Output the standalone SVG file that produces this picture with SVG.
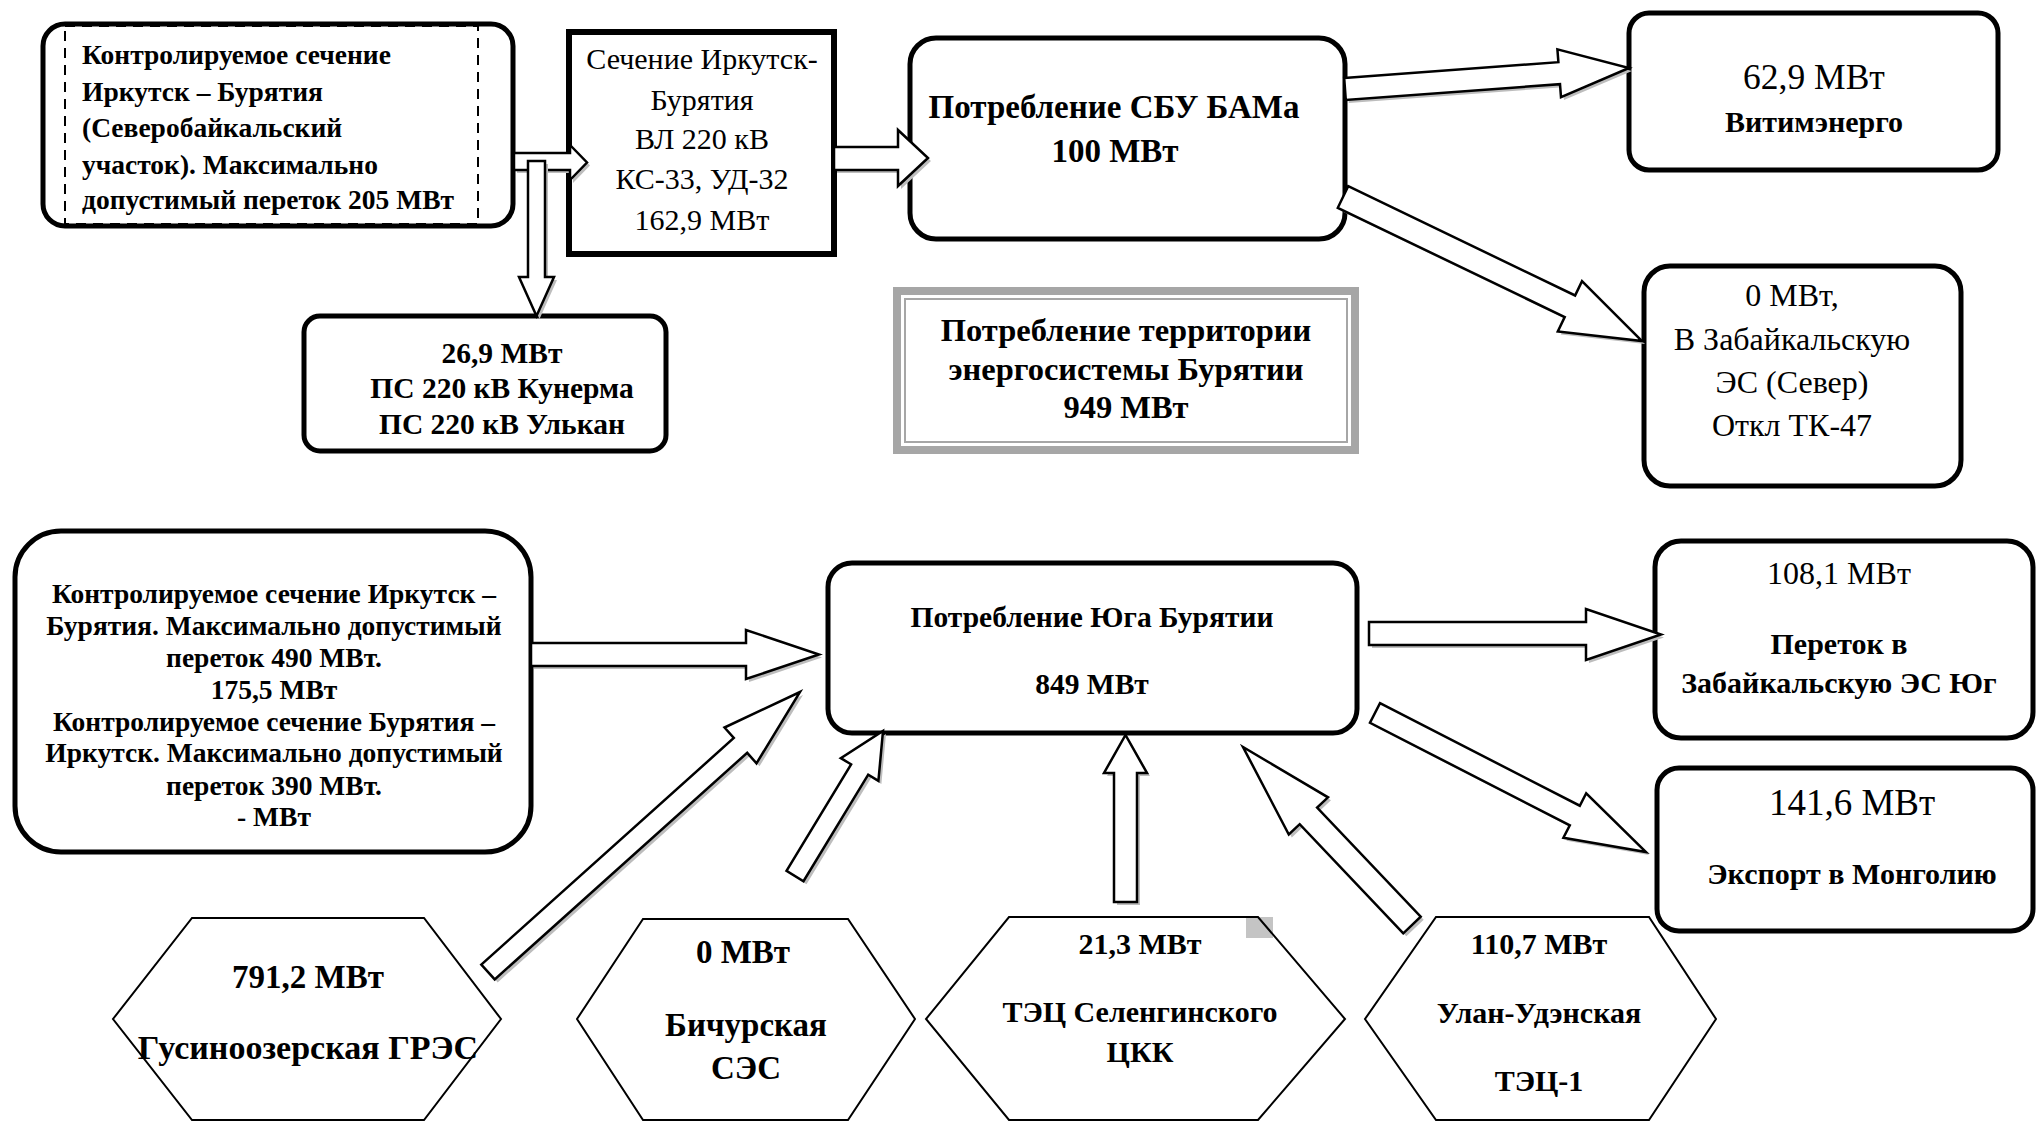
<svg xmlns="http://www.w3.org/2000/svg" xmlns:xlink="http://www.w3.org/1999/xlink" width="2038" height="1122" viewBox="0 0 2038 1122">
<style>
.box{fill:#fff;stroke:#000;stroke-width:5}
.hex{fill:#fff;stroke:#000;stroke-width:2}
.dash{fill:none;stroke:#000;stroke-width:2;stroke-dasharray:10 7}
.b{font-family:"Liberation Serif","Times New Roman",serif;font-weight:bold;fill:#000;text-anchor:middle}
.r{font-family:"Liberation Serif","Times New Roman",serif;font-weight:normal;fill:#000;text-anchor:middle}
.l{text-anchor:start}
.sh{fill:#bdbdbd;stroke:none}
.ar{fill:#fff;stroke:#000;stroke-width:2.5;stroke-linejoin:miter}
</style>
<defs>
<polygon id="a1" points="514,153 570,153 570,145 587,162.5 570,180 570,170 514,170"/>
<polygon id="a2" points="528,161 545,161 545,277 554,277 536.5,316 519,277 528,277"/>
<polygon id="a3" points="834,147 898,147 898,130 928,158 898,186 898,170 834,170"/>
<polygon id="a4" points="1344.2,78 1558.4,62.2 1557.4,49.3 1629,68 1561,97.1 1560,84.2 1345.8,100"/>
<polygon id="a5" points="1348.2,186.2 1575.1,295.5 1582,281.1 1642,341 1557.8,331.5 1564.7,317.1 1337.8,207.8"/>
<polygon id="a6" points="531,643 746,643 746,630 819,654.5 746,679 746,666 531,666"/>
<polygon id="a7" points="481.3,964.6 733.8,738 724.5,727.5 800,692 756.5,763.3 747.2,752.8 494.7,979.4"/>
<polygon id="a8" points="786.5,870.8 851.1,764.3 840.8,758.1 883,731 878.4,780.9 868.2,774.7 803.5,881.2"/>
<polygon id="a9" points="1114,902 1114,773 1104,773 1125.5,735 1147,773 1137,773 1137,902"/>
<polygon id="a10" points="1403.3,933.3 1299.7,824.2 1288.8,834.5 1243,747 1328,797.3 1317.1,807.6 1420.7,916.7"/>
<polygon id="a11" points="1369,622 1586,622 1586,609 1661,634.5 1586,660 1586,645 1369,645"/>
<polygon id="a12" points="1380,703.2 1579.8,805.7 1586.2,793.3 1646,852 1563.4,837.7 1569.8,825.3 1370,722.8"/>
</defs>
<rect width="2038" height="1122" fill="#fff"/>

<g id="n-kontr-sever">
<rect class="box" x="43" y="24" width="470" height="202" rx="22"/>
<rect class="dash" x="65" y="26" width="413" height="198"/>
<text class="b l" font-size="27.5" x="82" y="64">Контролируемое сечение</text>
<text class="b l" font-size="27.5" x="82" y="101">Иркутск – Бурятия</text>
<text class="b l" font-size="27.5" x="82" y="137">(Северобайкальский</text>
<text class="b l" font-size="27.5" x="82" y="174">участок). Максимально</text>
<text class="b l" font-size="27.5" x="82" y="209">допустимый переток 205 МВт</text>
</g>

<g id="n-sechenie">
<rect x="569" y="32" width="265" height="222" fill="#fff" stroke="#000" stroke-width="6"/>
<text class="r" font-size="30" x="702" y="69">Сечение Иркутск-</text>
<text class="r" font-size="30" x="702" y="110">Бурятия</text>
<text class="r" font-size="30" x="702" y="149">ВЛ 220 кВ</text>
<text class="r" font-size="30" x="702" y="189">КС-33, УД-32</text>
<text class="r" font-size="30" x="702" y="230">162,9 МВт</text>
</g>

<g id="n-kunerma">
<rect class="box" x="304" y="316" width="362" height="135" rx="16"/>
<text class="b" font-size="29.5" x="502" y="363">26,9 МВт</text>
<text class="b" font-size="29.5" x="502" y="398">ПС 220 кВ Кунерма</text>
<text class="b" font-size="29.5" x="502" y="434">ПС 220 кВ Ульк&#1072;н</text>
</g>

<g id="n-sbu">
<rect class="box" x="910" y="38" width="435" height="201" rx="26"/>
<text class="b" font-size="33" x="1114" y="118">Потребление СБУ БАМа</text>
<text class="b" font-size="33" x="1115" y="162">100 МВт</text>
</g>

<g id="n-territoriya">
<rect x="893" y="287" width="466" height="167" fill="#a6a6a6"/>
<rect x="901" y="295" width="450" height="151" fill="#fff"/>
<rect x="905" y="299" width="442" height="143" fill="none" stroke="#a6a6a6" stroke-width="2"/>
<text class="b" font-size="32.5" x="1126" y="341">Потребление территории</text>
<text class="b" font-size="32.5" x="1126" y="380">энергосистемы Бурятии</text>
<text class="b" font-size="32.5" x="1126" y="418">949 МВт</text>
</g>

<g id="n-vitim">
<rect class="box" x="1629" y="13" width="369" height="157" rx="20"/>
<text class="r" font-size="35.5" x="1814" y="89">62,9 МВт</text>
<text class="b" font-size="30" x="1814" y="132">Витимэнерго</text>
</g>

<g id="n-zab-sever">
<rect class="box" x="1644" y="266" width="317" height="220" rx="26"/>
<text class="r" font-size="32" x="1792" y="306">0 МВт,</text>
<text class="r" font-size="32" x="1792" y="350">В Забайкальскую</text>
<text class="r" font-size="32" x="1792" y="393">ЭС (Север)</text>
<text class="r" font-size="32" x="1792" y="436">Откл ТК-47</text>
</g>

<g id="n-kontr-yug">
<rect class="box" x="15" y="531" width="516" height="321" rx="46"/>
<text class="b" font-size="27.5" x="274" y="603">Контролируемое сечение Иркутск –</text>
<text class="b" font-size="27.5" x="274" y="635">Бурятия. Максимально допустимый</text>
<text class="b" font-size="27.5" x="274" y="667">переток 490 МВт.</text>
<text class="b" font-size="27.5" x="274" y="699">175,5 МВт</text>
<text class="b" font-size="27.5" x="274" y="731">Контролируемое сечение Бурятия –</text>
<text class="b" font-size="27.5" x="274" y="762">Иркутск. Максимально допустимый</text>
<text class="b" font-size="27.5" x="274" y="795">переток 390 МВт.</text>
<text class="b" font-size="27.5" x="274" y="826">- МВт</text>
</g>

<g id="n-yug">
<rect class="box" x="828" y="563" width="529" height="170" rx="24"/>
<text class="b" font-size="29.5" x="1092" y="627">Потребление Юга Бурятии</text>
<text class="b" font-size="29.5" x="1092" y="694">849 МВт</text>
</g>

<g id="n-zab-yug">
<rect class="box" x="1655" y="541" width="378" height="197" rx="26"/>
<text class="r" font-size="32" x="1839" y="584">108,1 МВт</text>
<text class="b" font-size="30" x="1839" y="654">Переток в</text>
<text class="b" font-size="30" x="1839" y="693">Забайкальскую ЭС Юг</text>
</g>

<g id="n-mongolia">
<rect class="box" x="1657" y="768" width="376" height="163" rx="22"/>
<text class="r" font-size="37" x="1852" y="815">141,6 МВт</text>
<text class="b" font-size="30" x="1852" y="884">Экспорт в Монголию</text>
</g>

<g id="n-gres">
<polygon class="hex" points="192,918 424,918 501,1019 424,1120 192,1120 113,1019"/>
<text class="b" font-size="33" x="308" y="988">791,2 МВт</text>
<text class="b" font-size="34" x="308" y="1059">Гусиноозерская ГРЭС</text>
</g>

<g id="n-bichura">
<polygon class="hex" points="643,919 848,919 915,1019 848,1120 643,1120 577,1019"/>
<text class="b" font-size="33" x="743" y="963">0 МВт</text>
<text class="b" font-size="33" x="746" y="1036">Бичурская</text>
<text class="b" font-size="33" x="746" y="1079">СЭС</text>
</g>

<g id="n-selenga">
<rect x="1246" y="917" width="27" height="21" fill="#c4c4c4"/>
<polygon points="1009,917 1258,917 1345,1019 1258,1120 1009,1120 926,1019" fill="none" stroke="#000" stroke-width="2"/>
<text class="b" font-size="30" x="1140" y="954">21,3 МВт</text>
<text class="b" font-size="30" x="1140" y="1022">ТЭЦ Селенгинского</text>
<text class="b" font-size="30" x="1140" y="1062">ЦКК</text>
</g>

<g id="n-ulanude">
<polygon class="hex" points="1436,917 1649,917 1716,1019 1649,1120 1436,1120 1365,1019"/>
<text class="b" font-size="30" x="1539" y="954">110,7 МВт</text>
<text class="b" font-size="30" x="1539" y="1023">Улан-Удэнская</text>
<text class="b" font-size="30" x="1539" y="1091">ТЭЦ-1</text>
</g>

<g id="connectors">
<use xlink:href="#a1" class="sh" transform="translate(3,3)"/>
<use xlink:href="#a1" class="ar"/>
<use xlink:href="#a2" class="sh" transform="translate(3,3)"/>
<use xlink:href="#a2" class="ar"/>
<use xlink:href="#a3" class="sh" transform="translate(3,3)"/>
<use xlink:href="#a3" class="ar"/>
<use xlink:href="#a4" class="sh" transform="translate(3,3)"/>
<use xlink:href="#a4" class="ar"/>
<use xlink:href="#a5" class="sh" transform="translate(3,3)"/>
<use xlink:href="#a5" class="ar"/>
<use xlink:href="#a6" class="sh" transform="translate(3,3)"/>
<use xlink:href="#a6" class="ar"/>
<use xlink:href="#a7" class="sh" transform="translate(3,3)"/>
<use xlink:href="#a7" class="ar"/>
<use xlink:href="#a8" class="sh" transform="translate(3,3)"/>
<use xlink:href="#a8" class="ar"/>
<use xlink:href="#a9" class="sh" transform="translate(3,3)"/>
<use xlink:href="#a9" class="ar"/>
<use xlink:href="#a10" class="sh" transform="translate(3,3)"/>
<use xlink:href="#a10" class="ar"/>
<use xlink:href="#a11" class="sh" transform="translate(3,3)"/>
<use xlink:href="#a11" class="ar"/>
<use xlink:href="#a12" class="sh" transform="translate(3,3)"/>
<use xlink:href="#a12" class="ar"/>
</g>
</svg>
